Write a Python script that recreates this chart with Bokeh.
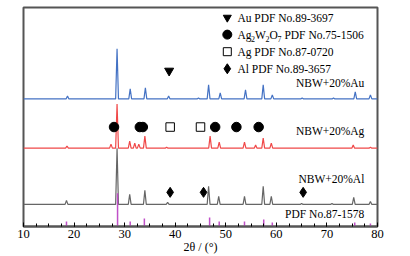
from bokeh.plotting import figure
from bokeh.models import Range1d, SingleIntervalTicker
from bokeh.core.properties import value
from bokeh.embed import file_html
from bokeh.resources import INLINE

# ---------------- data ----------------
# NBW+20%Au pattern (baseline offset, peak 2theta, peak heights above baseline)
au_base = 127
au_peak_x = [18.7, 28.5, 31.1, 34.1, 38.7, 44.6, 46.6, 48.9, 53.9, 57.4, 59.2, 65.1, 71.3, 75.6, 78.6]
au_peak_h = [3, 50, 10, 11, 3, 1, 14, 6, 9, 14, 4, 1, 1, 7, 4]

# NBW+20%Ag pattern
ag_base = 78
ag_peak_x = [18.6, 27.3, 28.5, 31.0, 32.0, 32.8, 34.0, 38.3, 46.9, 48.7, 53.7, 55.9, 57.4, 59.0, 75.2, 78.6]
ag_peak_h = [2, 4, 44, 7, 5, 4, 12, 1, 12, 6, 6, 3, 10, 5, 3, 1]

# NBW+20%Al pattern
al_base = 22
al_peak_x = [18.5, 28.5, 31.0, 34.0, 38.5, 46.6, 48.6, 53.7, 57.4, 59.0, 65.0, 71.0, 75.3, 78.6]
al_peak_h = [4, 56, 10, 14, 2, 18, 8, 8, 18, 8, 1, 1, 7, 3]

# PDF No.87-1578 reference sticks
pdf_x = [18.5, 28.6, 31.1, 33.9, 46.8, 48.7, 53.7, 57.5, 59.2, 75.5, 78.6]
pdf_h = [5, 33, 5, 8, 9, 5, 5, 7, 4, 4, 3]

# phase identification markers
au_mark_x = [38.8]
au_mark_y = [155]
ag2w2o7_mark_x = [27.9, 33.0, 33.6, 47.9, 52.1, 56.5]
ag2w2o7_mark_y = [99, 99, 99, 99, 99, 99]
ag_mark_x = [39.0, 45.0]
ag_mark_y = [99, 99]
al_mark_x = [39.0, 45.6, 65.3]
al_mark_y = [34, 34, 34]

sample_labels = ["NBW+20%Au", "NBW+20%Ag", "NBW+20%Al", "PDF No.87-1578"]
legend_labels = ["Au PDF No.89-3697", "Ag2W2O7 PDF No.75-1506", "Ag PDF No.87-0720", "Al PDF No.89-3657"]

# ---------------- helpers ----------------
def profile(base, px, ph, w=0.28):
    xs, ys = [10], [base]
    for x, h in zip(px, ph):
        xs += [x - w, x, x + w]
        ys += [base, base + h, base]
    xs.append(80)
    ys.append(base)
    return xs, ys

FONT_NAME = "Liberation Serif"
FONT = value(FONT_NAME)
BLUE = "#4472c4"
RED = "#f04848"
GRAY = "#666666"
PINK = "#c050c8"
FRAME = "#555555"

p = figure(width=398, height=256, output_backend="svg", toolbar_location=None,
           x_range=Range1d(10, 80), y_range=Range1d(0, 218),
           min_border_left=23, min_border_right=21, min_border_top=7, min_border_bottom=0)
p.background_fill_color = "white"
p.border_fill_color = "white"
p.grid.visible = False
p.yaxis.visible = False
p.outline_line_color = FRAME
p.outline_line_width = 2

xa = p.xaxis[0]
xa.ticker = SingleIntervalTicker(interval=10, num_minor_ticks=4)
xa.axis_line_color = FRAME
xa.axis_line_width = 2
xa.major_tick_in = 4
xa.major_tick_out = 0
xa.minor_tick_in = 3
xa.minor_tick_out = 0
xa.major_tick_line_color = "black"
xa.minor_tick_line_color = "black"
xa.major_label_text_font = FONT_NAME
xa.major_label_text_font_size = "12.5px"
xa.major_label_text_color = "black"
xa.major_label_standoff = 3
xa.axis_label = "2θ / (°)"
xa.axis_label_text_font = FONT_NAME
xa.axis_label_text_font_size = "12px"
xa.axis_label_text_font_style = "normal"
xa.axis_label_text_color = "black"
xa.axis_label_standoff = -1

# traces
for base, px, ph, col in [(au_base, au_peak_x, au_peak_h, BLUE),
                          (ag_base, ag_peak_x, ag_peak_h, RED),
                          (al_base, al_peak_x, al_peak_h, GRAY)]:
    xs, ys = profile(base, px, ph)
    p.line(xs, ys, line_color=col, line_width=1.2)

# PDF sticks
p.segment(x0=pdf_x, y0=[0] * len(pdf_x), x1=pdf_x, y1=pdf_h, line_color=PINK, line_width=1.5)

# phase markers
p.scatter(au_mark_x, au_mark_y, marker="inverted_triangle", size=9, color="black")
p.scatter(ag2w2o7_mark_x, ag2w2o7_mark_y, marker="circle", size=9.5, color="black")
p.scatter(ag_mark_x, ag_mark_y, marker="square", size=8.5, fill_color=None, line_color="black", line_width=1)
p.scatter(al_mark_x, al_mark_y, marker="diamond", size=10, color="black")

# sample labels
p.text(x=[77.4] * 4, y=[143, 95, 47, 12], text=sample_labels, text_font=FONT,
       text_font_size="11.5px", text_align="right", text_baseline="middle", text_color="black")

# legend
lx, tx = 50.3, 52.3
rows = [208, 191, 174, 157]
p.scatter([lx], [rows[0]], marker="inverted_triangle", size=8, color="black")
p.scatter([lx], [rows[1]], marker="circle", size=9, color="black")
p.scatter([lx], [rows[2]], marker="square", size=8, fill_color=None, line_color="black", line_width=1)
p.scatter([lx], [rows[3]], marker="diamond", size=10, color="black")

p.text(x=[tx, tx, tx], y=[rows[0], rows[2], rows[3]],
       text=[legend_labels[0], legend_labels[2], legend_labels[3]], text_font=FONT,
       text_font_size="11.5px", text_baseline="middle", text_color="black")

# Ag2W2O7 with subscripts
pieces = [("Ag", 0, 0, "11.5px"), ("2", 13.5, 4, "8px"), ("W", 17.5, 0, "11.5px"),
          ("2", 28, 4, "8px"), ("O", 32, 0, "11.5px"), ("7", 40, 4, "8px"),
          ("PDF No.75-1506", 47, 0, "11.5px")]
for t, dx, dy, fs in pieces:
    p.text(x=[tx], y=[rows[1]], text=[t], x_offset=dx, y_offset=dy, text_font=FONT,
           text_font_size=fs, text_baseline="middle", text_color="black")

open("out.html", "w").write(file_html(p, INLINE))
